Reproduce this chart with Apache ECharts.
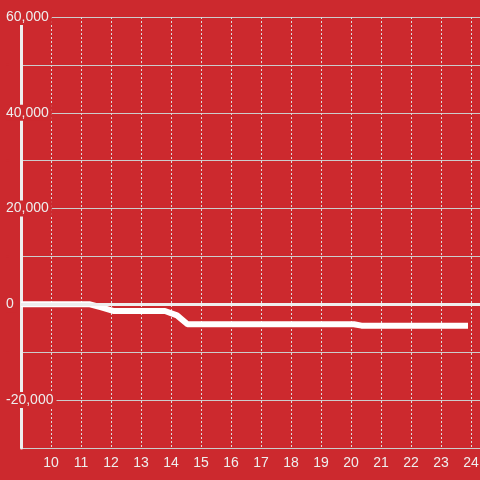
<!DOCTYPE html>
<html>
<head>
<meta charset="utf-8">
<script src="https://cdn.jsdelivr.net/npm/echarts@6/dist/echarts.min.js"></script>
<style>
  html, body { margin: 0; padding: 0; background: #cc292e; }
  #chart { width: 480px; height: 480px; }
</style>
</head>
<body>
<div id="chart"></div>
<script>
// hours and balance
var hours = [9, 11.3, 11.65, 12.1, 13.8, 14.2, 14.55, 20.1, 20.35, 23.9];
var balance = [0, 0, -600, -1400, -1400, -2300, -4150, -4150, -4450, -4450];
var yTicks = [-20000, 0, 20000, 40000, 60000];

var bg = '#cc292e';
var chart = echarts.init(document.getElementById('chart'));

var points = [];
hours.forEach(function(h, i) {
  points.push([h, balance[i]]);
});

var option = {
  backgroundColor: bg,
  animation: false,
  grid: {
    left: 21,
    right: 0,
    top: 17,
    bottom: 32,
    outerBoundsMode: 'none'
  },
  xAxis: {
    type: 'value',
    min: 9,
    max: 24.3,
    interval: 1,
    axisLine: { show: false },
    axisTick: { show: false },
    axisLabel: {
      color: '#eeeeee',
      fontSize: 14,
      fontFamily: 'Liberation Sans',
      margin: 8,
      formatter: function(v) {
        if (v === 9 || v !== Math.round(v)) return '';
        return String(v);
      }
    },
    splitLine: {
      show: true,
      lineStyle: { color: '#dddddd', width: 1, type: [2, 2] }
    }
  },
  yAxis: {
    type: 'value',
    min: -30000,
    max: 60000,
    interval: 10000,
    axisLine: {
      show: true,
      onZero: false,
      lineStyle: { color: '#eeeeee', width: 3 }
    },
    axisTick: { show: false },
    axisLabel: {
      color: '#eeeeee',
      fontSize: 14,
      fontFamily: 'Liberation Sans',
      align: 'left',
      margin: 15,
      backgroundColor: bg,
      padding: [1, 3, 1, 0],
      formatter: function(v) {
        if (yTicks.indexOf(v) < 0) return '';
        return v.toLocaleString('en-US');
      }
    },
    splitLine: {
      show: true,
      lineStyle: { color: '#cccccc', width: 1 }
    }
  },
  series: [{
    type: 'line',
    data: points,
    symbol: 'none',
    lineStyle: { color: '#ffffff', width: 6 },
    markLine: {
      silent: true,
      symbol: 'none',
      label: { show: false },
      lineStyle: { color: '#eeeeee', width: 3, type: 'solid' },
      data: [{ yAxis: 0 }]
    }
  }]
};

chart.setOption(option);
</script>
</body>
</html>
